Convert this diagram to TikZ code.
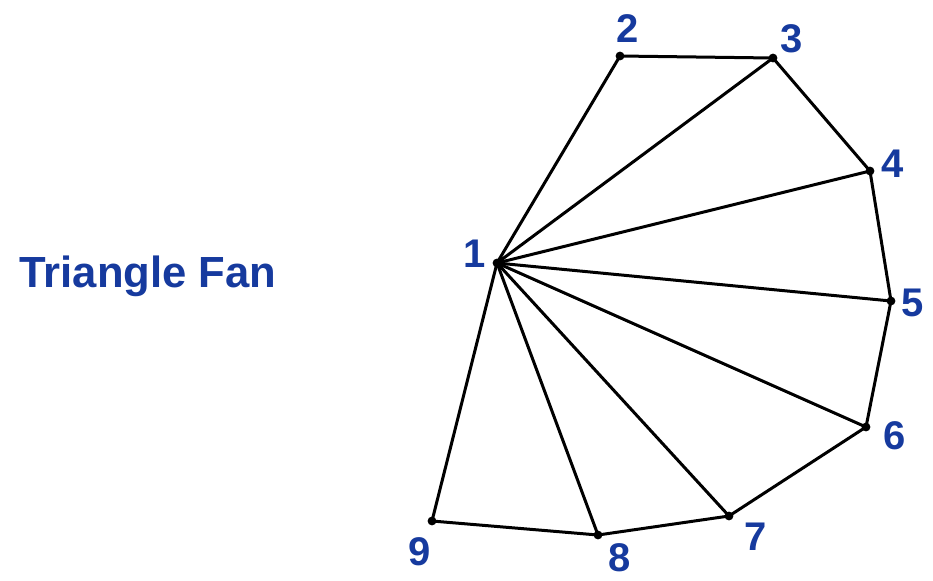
\documentclass[tikz,border=0pt]{standalone}
\usepackage{fontspec}
\setmainfont{Liberation Sans}
\definecolor{fanblue}{RGB}{22,58,158}

\begin{document}
\begin{tikzpicture}[x=0.5pt, y=-0.5pt, line width=1.5pt, line join=round,
  vlabel/.style={text=fanblue, font=\bfseries\fontsize{20}{20}\selectfont, inner sep=0pt}]
  \useasboundingbox (0,0) rectangle (933,580);
  \coordinate (P1) at (497,263);
  \coordinate (P2) at (620,56);
  \coordinate (P3) at (773,58);
  \coordinate (P4) at (870,171);
  \coordinate (P5) at (891,301);
  \coordinate (P6) at (866,427);
  \coordinate (P7) at (729,516);
  \coordinate (P8) at (598,535);
  \coordinate (P9) at (432,521);
  % outline of the fan
  \draw (P1) -- (P2) -- (P3) -- (P4) -- (P5) -- (P6) -- (P7) -- (P8) -- (P9) -- cycle;
  % spokes from the centre vertex
  \foreach \i in {3,...,8}
    \draw (P1) -- (P\i);
  \foreach \i in {1,...,9}
    \fill (P\i) circle (2.2pt);
  \node[vlabel] (L1) at (475,254) {1};
  \node[vlabel] (L2) at (628,29) {2};
  \node[vlabel] (L3) at (792,39) {3};
  \node[vlabel] (L4) at (893,164) {4};
  \node[vlabel] (L5) at (913,303) {5};
  \node[vlabel] (L6) at (895,436) {6};
  \node[vlabel] (L7) at (756,537) {7};
  \node[vlabel] (L8) at (620,558) {8};
  \node[vlabel] (L9) at (420,552) {9};
  \node[text=fanblue, font=\bfseries\fontsize{21.8}{22}\selectfont, inner sep=0pt, anchor=base]
    (title) at (148,287) {Triangle Fan};
\end{tikzpicture}
\end{document}
